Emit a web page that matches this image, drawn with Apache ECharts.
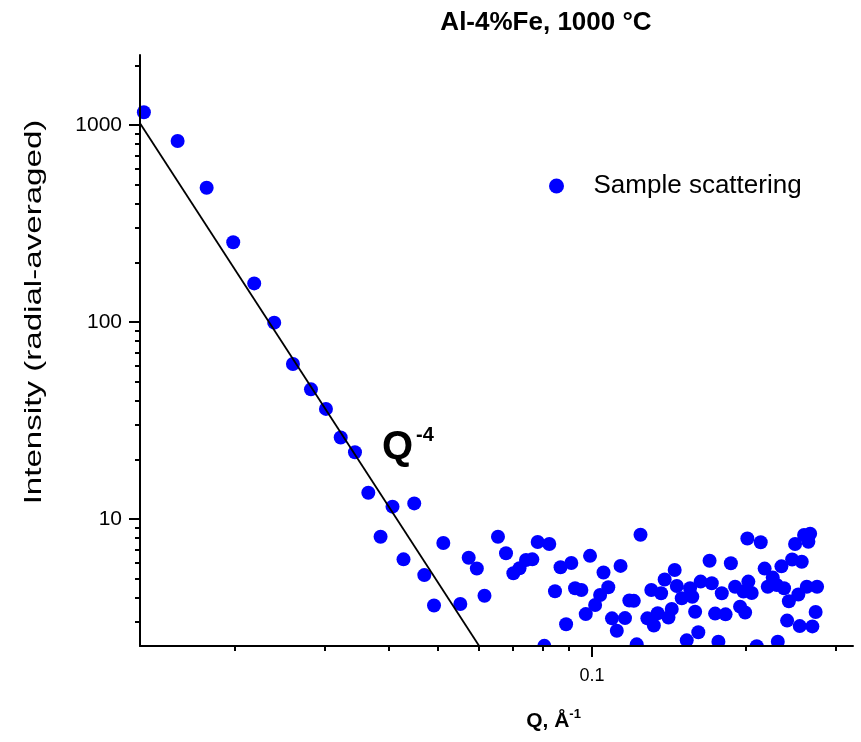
<!DOCTYPE html>
<html>
<head>
<meta charset="utf-8">
<title>Al-4%Fe, 1000 °C</title>
<script src="https://cdn.jsdelivr.net/npm/echarts@6/dist/echarts.min.js"></script>
<style>
  html, body { margin: 0; padding: 0; background: #ffffff; }
  #chart { width: 861px; height: 742px; }
</style>
</head>
<body>
<div id="chart"></div>
<script>
// Scattering vector Q (1/Å) and radially averaged intensity for each measured point
const qValues = [
  0.01328, 0.01546, 0.01762, 0.01986, 0.02183, 0.02389, 0.02599, 0.02819, 0.03016, 0.03223,
  0.03437, 0.0365, 0.03857, 0.0407, 0.04277, 0.04489, 0.04697, 0.04907, 0.05117, 0.05524,
  0.05737, 0.05951, 0.0616, 0.06546, 0.06787, 0.07015, 0.07213, 0.07427, 0.07641, 0.07828,
  0.08066, 0.08248, 0.08463, 0.08677, 0.08897, 0.09108, 0.09263, 0.0953, 0.09721, 0.0991,
  0.1014, 0.1037, 0.1053, 0.1076, 0.1094, 0.1118, 0.1137, 0.116, 0.1183, 0.1207,
  0.1223, 0.1244, 0.1283, 0.1306, 0.1321, 0.1344, 0.1365, 0.1387, 0.1411, 0.1432,
  0.1451, 0.1465, 0.1498, 0.1532, 0.1555, 0.1571, 0.1591, 0.1614, 0.1631, 0.1698,
  0.1715, 0.1741, 0.1767, 0.1794, 0.1825, 0.1869, 0.1905, 0.1948, 0.1978, 0.1993,
  0.2013, 0.2022, 0.2053, 0.21, 0.2138, 0.2176, 0.2207, 0.2257, 0.2298, 0.2309,
  0.2347, 0.2375, 0.2408, 0.2427, 0.2463, 0.2496, 0.2533, 0.2549, 0.2572, 0.2599,
  0.265, 0.2671, 0.2631, 0.2698, 0.2738, 0.2756
];
const intensityValues = [
  1160, 830, 480, 254, 157, 99.2, 61.2, 45.5, 36.2, 25.9,
  21.8, 13.6, 8.13, 11.55, 6.24, 12.0, 5.19, 3.64, 7.55, 3.70,
  6.36, 5.61, 4.08, 8.13, 6.70, 5.30, 5.62, 6.19, 6.24, 7.64,
  2.27, 7.46, 4.30, 5.69, 2.92, 5.98, 4.45, 4.36, 3.29, 6.50,
  3.66, 4.11, 5.35, 4.50, 3.13, 2.71, 5.78, 3.14, 3.86, 3.84,
  2.31, 8.32, 3.13, 4.36, 2.88, 3.32, 4.20, 4.93, 3.16, 3.49,
  5.51, 4.57, 3.96, 2.42, 4.45, 4.03, 3.38, 2.66, 4.81, 6.14,
  4.72, 3.31, 2.38, 4.20, 3.28, 5.96, 4.53, 3.59, 4.28, 3.35,
  7.96, 4.81, 4.21, 2.26, 7.62, 5.60, 4.53, 5.04, 4.62, 2.38,
  5.75, 4.45, 3.05, 3.82, 6.23, 7.46, 4.14, 2.86, 6.07, 8.29,
  7.67, 8.42, 4.53, 2.85, 3.37, 4.53
];

// Porod (Q^-4) guide line, given by its two end points
const fitQ = [0.01305, 0.0601];
const fitIntensity = [1020, 2.27];

// Axis ranges and tick values
const qRange = [0.01305, 0.324];
const intensityRange = [2.266, 2266];
const xMajorTicks = [0.1];
const xMinorTicks = [0.02, 0.03, 0.04, 0.05, 0.06, 0.07, 0.08, 0.09, 0.2, 0.3];
const yMajorTicks = [10, 100, 1000];
const yMinorTicks = [3, 4, 5, 6, 7, 8, 9, 20, 30, 40, 50, 60, 70, 80, 90,
  200, 300, 400, 500, 600, 700, 800, 900, 2000];

const FONT = "'Liberation Sans', Arial, Helvetica, sans-serif";
const INK = '#000000';
const DOT = '#0000ff';

const scatterData = qValues.map((q, i) => [q, intensityValues[i]]);
const fitData = fitQ.map((q, i) => [q, fitIntensity[i]]);
const plainNumber = v => String(+Number(v).toPrecision(6));

function majorAxis(range, ticks, extra) {
  return Object.assign({
    type: 'log',
    logBase: 10,
    min: range[0],
    max: range[1],
    gridIndex: 0,
    z: 10,
    axisLine: { show: true, onZero: false, lineStyle: { color: INK, width: 2 } },
    axisTick: { show: true, customValues: ticks, length: 11, lineStyle: { color: INK, width: 2 } },
    splitLine: { show: false },
    minorTick: { show: false },
    minorSplitLine: { show: false }
  }, extra);
}

function minorAxis(range, ticks, position) {
  return {
    type: 'log',
    logBase: 10,
    min: range[0],
    max: range[1],
    gridIndex: 0,
    position: position,
    z: 10,
    axisLine: { show: false, onZero: false },
    axisTick: { show: true, customValues: ticks, length: 5, lineStyle: { color: INK, width: 2 } },
    axisLabel: { show: false },
    splitLine: { show: false },
    minorTick: { show: false }
  };
}

const chart = echarts.init(document.getElementById('chart'), null, { renderer: 'canvas' });

chart.setOption({
  animation: false,
  backgroundColor: '#ffffff',
  textStyle: { fontFamily: FONT },
  title: {
    text: 'Al-4%Fe, 1000 °C',
    left: 546,
    top: 10,
    textAlign: 'center',
    padding: 0,
    textStyle: { fontFamily: FONT, fontSize: 26, fontWeight: 'bold', color: INK }
  },
  legend: {
    data: ['Sample scattering'],
    icon: 'circle',
    left: 549,
    top: 173,
    padding: 0,
    itemWidth: 64,
    itemHeight: 15,
    textStyle: { fontFamily: FONT, fontSize: 26, color: INK },
    selectedMode: false
  },
  grid: {
    left: 140,
    right: 8,
    top: 55,
    bottom: 96,
    containLabel: false,
    outerBoundsMode: 'none'
  },
  xAxis: [
    majorAxis(qRange, xMajorTicks, {
      position: 'bottom',
      axisLabel: {
        show: true, customValues: xMajorTicks, formatter: plainNumber,
        fontFamily: FONT, fontSize: 18, color: INK, margin: 21
      },
      name: '{b|Q, Å}{s|-1}',
      nameLocation: 'middle',
      nameGap: 62,
      nameTextStyle: {
        padding: [0, 0, 0, 114],
        rich: {
          b: { fontFamily: FONT, fontSize: 21, fontWeight: 'bold', color: INK, lineHeight: 26 },
          s: { fontFamily: FONT, fontSize: 13, fontWeight: 'bold', color: INK, verticalAlign: 'top', lineHeight: 14 }
        }
      }
    }),
    minorAxis(qRange, xMinorTicks, 'bottom')
  ],
  yAxis: [
    majorAxis(intensityRange, yMajorTicks, {
      position: 'left',
      axisLabel: {
        show: true, customValues: yMajorTicks, formatter: plainNumber,
        fontFamily: FONT, fontSize: 21, color: INK, margin: 18
      }
    }),
    minorAxis(intensityRange, yMinorTicks, 'left')
  ],
  graphic: [
    {
      // hides the lower halves of markers that sit on the Q axis
      type: 'rect',
      z: 5,
      silent: true,
      shape: { x: 120, y: 647, width: 741, height: 95 },
      style: { fill: '#ffffff' }
    },
    {
      // intensity axis title, set vertically and drawn elongated along its baseline
      type: 'text',
      x: 34,
      y: 312,
      rotation: Math.PI / 2,
      scaleX: 1.38,
      z: 6,
      style: {
        text: 'Intensity (radial-averaged)',
        fontFamily: FONT, fontSize: 24, fill: INK,
        align: 'center', verticalAlign: 'middle'
      }
    },
    {
      type: 'text',
      left: 382,
      top: 428,
      z: 6,
      style: { text: 'Q', fontFamily: FONT, fontSize: 40, fontWeight: 'bold', fill: INK }
    },
    {
      type: 'text',
      left: 416,
      top: 425,
      z: 6,
      style: { text: '-4', fontFamily: FONT, fontSize: 20, fontWeight: 'bold', fill: INK }
    }
  ],
  series: [
    {
      name: 'Sample scattering',
      type: 'scatter',
      xAxisIndex: 0,
      yAxisIndex: 0,
      data: scatterData,
      symbol: 'circle',
      symbolSize: 14,
      clip: false,
      itemStyle: { color: DOT, opacity: 1 },
      emphasis: { disabled: true },
      z: 2
    },
    {
      name: 'Q^-4',
      type: 'line',
      xAxisIndex: 0,
      yAxisIndex: 0,
      data: fitData,
      showSymbol: false,
      symbol: 'none',
      clip: false,
      lineStyle: { color: INK, width: 1.8 },
      emphasis: { disabled: true },
      z: 3
    }
  ]
});
</script>
</body>
</html>
